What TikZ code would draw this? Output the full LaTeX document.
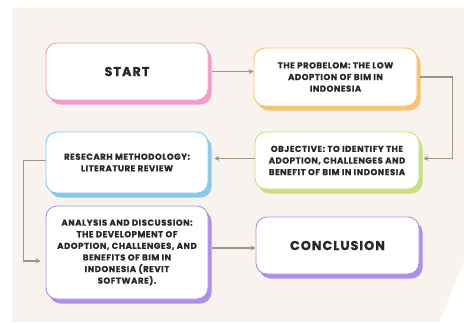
\documentclass[tikz,border=0pt]{standalone}
\usepackage{fontspec}
\setmainfont{Poppins}[BoldFeatures={FakeBold=0.7}]
\usetikzlibrary{arrows.meta,shadows}
\definecolor{bgc}{HTML}{F8F3EE}
\definecolor{pinkc}{HTML}{F49BCB}
\definecolor{orangec}{HTML}{F8C46E}
\definecolor{bluec}{HTML}{86CAEE}
\definecolor{greenc}{HTML}{C8E07C}
\definecolor{purplec}{HTML}{AE8EEA}
\definecolor{linec}{HTML}{A39380}
\definecolor{txtc}{HTML}{28282C}
\tikzset{
  box/.style={draw=#1, line width=0.9pt, fill=white, rounded corners=11pt,
    drop shadow={fill=#1, opacity=1, shadow xshift=3.5pt, shadow yshift=-4.5pt},
    align=center, text=txtc, inner sep=2pt, font=\bfseries\fontsize{8.6}{11.6}\selectfont\addfontfeatures{LetterSpace=6}},
  bigtxt/.style={font=\bfseries\fontsize{12.8}{14}\selectfont\addfontfeatures{LetterSpace=8}},
  conn/.style={draw=linec, line width=1.4pt, -{Stealth[length=5pt,width=5pt]}},
}
\begin{document}
\begin{tikzpicture}[x=1pt,y=-1pt]
\useasboundingbox (0,0) rectangle (464,322);
\fill[white] (0,0) rectangle (464,322);
\fill[bgc] (12,8) rectangle (464,322);
\fill[white] (464,262) -- (452,290) -- (440,322) -- (464,322) -- cycle;

\node[box=pinkc, minimum width=162pt, minimum height=57pt, bigtxt] (start) at (127,71.5) {START};
\node[box=orangec, minimum width=163pt, minimum height=58pt] (prob) at (335.5,77) {THE PROBELOM: THE LOW\\ADOPTION OF BIM IN\\INDONESIA};
\node[box=bluec, minimum width=162pt, minimum height=61pt] (res) at (127,162.5) {RESECARH METHODOLOGY:\\LITERATURE REVIEW};
\node[box=greenc, minimum width=164pt, minimum height=57pt] (obj) at (337,160.5) {OBJECTIVE: TO IDENTIFY THE\\ADOPTION, CHALLENGES AND\\BENEFIT OF BIM IN INDONESIA};
\node[box=purplec, minimum width=162pt, minimum height=93pt] (ana) at (127,252.5) {ANALYSIS AND DISCUSSION:\\THE DEVELOPMENT OF\\ADOPTION, CHALLENGES, AND\\BENEFITS OF BIM IN\\INDONESIA (REVIT\\SOFTWARE).};
\node[box=purplec, minimum width=163pt, minimum height=57pt, bigtxt] (concl) at (337.5,245.5) {CONCLUSION};

\draw[conn] ([xshift=4pt]start.east) -- (start.east -| prob.west);
\draw[conn] ([xshift=3pt]prob.east) -- ++(32,0) |- ([xshift=4pt,yshift=2pt]obj.east);
\draw[conn] ([yshift=2pt]obj.west) -- ([xshift=6pt,yshift=2pt]obj.west -| res.east);
\draw[conn] ([yshift=2pt]res.west) -- ++(-22,0) |- ([xshift=-5pt,yshift=-8.5pt]ana.west);
\draw[conn] ([xshift=4pt,yshift=4.5pt]ana.east) -- ([yshift=4.5pt]ana.east -| concl.west);
\end{tikzpicture}
\end{document}
